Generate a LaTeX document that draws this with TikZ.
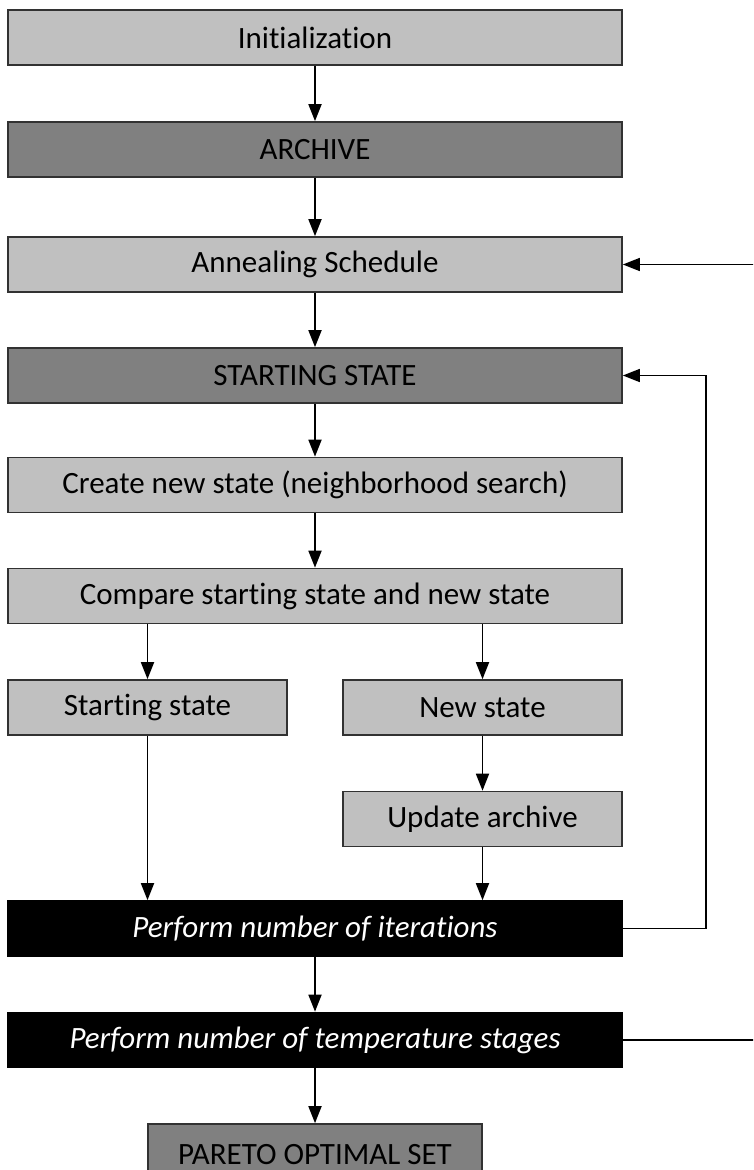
\documentclass[tikz,border=0pt]{standalone}
\usepackage{fontspec}
\setmainfont[Ligatures={NoCommon}]{Carlito}
\usetikzlibrary{arrows.meta,calc}

\definecolor{lightbox}{RGB}{192,192,192}
\definecolor{darkbox}{RGB}{128,128,128}
\definecolor{boxline}{RGB}{50,50,50}

\begin{document}
\begin{tikzpicture}[x=1pt,y=-1pt]

    \tikzset{
      stepbox/.style={
        draw=boxline,
        line width=1.6pt,
        fill=lightbox,
        inner sep=0pt,
        minimum width=614pt,
        minimum height=55pt,
        font=\fontsize{31}{36}\selectfont,
      },
      halfbox/.style={
        stepbox,
        minimum width=279pt,
      },
      darkstep/.style={
        stepbox,
        fill=darkbox,
      },
      loopbox/.style={
        stepbox,
        draw=black,
        fill=black,
        text=white,
        font=\fontsize{31}{36}\selectfont\itshape,
      },
      flow/.style={
        line width=1.8pt,
        -{Triangle[length=17pt,width=13pt]},
      },
      back/.style={
        line width=1.5pt,
        -{Triangle[length=17pt,width=13pt]},
      },
    }
    \clip (0,0) rectangle (753,1170);

	\node[stepbox] (init) at (315,37.5) {Initialization};
	\node[darkstep] (archive) at (315,149.5) {ARCHIVE};
	\node[stepbox] (anneal) at (315,264.5) {Annealing Schedule};
	\node[darkstep] (start) at (315,375.5) {STARTING STATE};
	\node[stepbox] (create) at (315,485) {Create new state (neighborhood search)};
	\node[stepbox] (compare) at (315,596) {Compare starting state and new state};
	\node[halfbox] (sstate) at (147.5,707.5) {Starting state};
	\node[halfbox] (nstate) at (482.5,707.5) {New state};
	\node[halfbox] (update) at (482.5,819) {Update archive};
	\node[loopbox] (iter) at (315,928.5) {Perform number of iterations};
	\node[loopbox] (temp) at (315,1040) {Perform number of temperature stages};
	\node[darkstep, minimum width=334pt, text depth=0pt] (pareto) at (315,1151.5) {\raisebox{-6pt}{PARETO OPTIMAL SET}};

	\coordinate (iterright) at (706,928.5);
	\coordinate (tempright) at (790,1040);

	\draw[flow] (init) -- (archive);
	\draw[flow] (archive) -- (anneal);
	\draw[flow] (anneal) -- (start);
	\draw[flow] (start) -- (create);
	\draw[flow] (create) -- (compare);
	\draw[flow] (compare.south -| sstate) -- (sstate);
	\draw[flow] (compare.south -| nstate) -- (nstate);
	\draw[flow] (nstate) -- (update);
	\draw[flow] (sstate) -- (iter.north -| sstate);
	\draw[flow] (update) -- (iter.north -| update);
	\draw[flow] (iter) -- (temp);
	\draw[flow] (temp) -- (pareto);
	\draw[back] (iter.east) -- (iterright) |- (start.east);
	\draw[back] (temp.east) -- (tempright) |- (anneal.east);

\end{tikzpicture}
\end{document}
